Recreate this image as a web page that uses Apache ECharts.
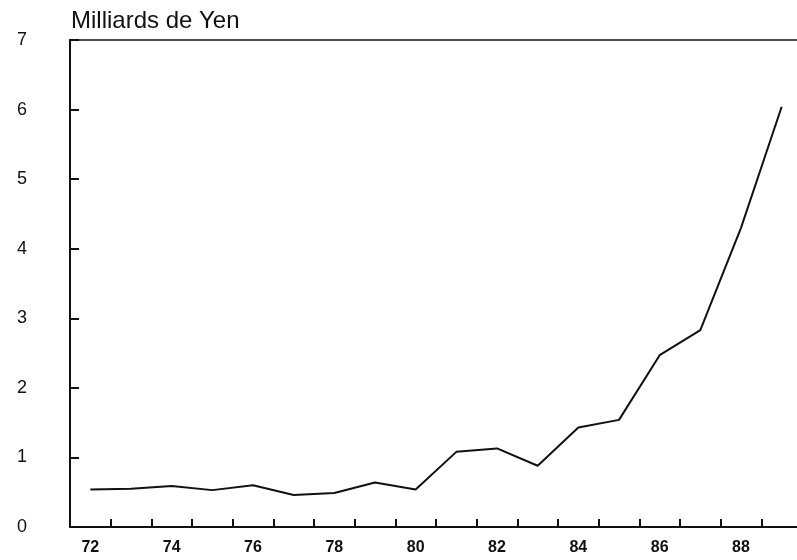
<!DOCTYPE html>
<html>
<head>
<meta charset="utf-8">
<script src="https://cdn.jsdelivr.net/npm/echarts@6/dist/echarts.min.js"></script>
<style>
  html, body { margin: 0; padding: 0; background: #fff; }
  #chart { width: 797px; height: 560px; }
</style>
</head>
<body>
<div id="chart"></div>
<script>
const years = ['72', '73', '74', '75', '76', '77', '78', '79', '80', '81', '82', '83', '84', '85', '86', '87', '88', '89']
const values = [0.54, 0.55, 0.59, 0.53, 0.60, 0.46, 0.49, 0.64, 0.54, 1.08, 1.13, 0.88, 1.43, 1.54, 2.47, 2.83, 4.3, 6.04]

const ink = '#111'
const chart = echarts.init(document.getElementById('chart'))

chart.setOption({
  backgroundColor: '#fff',
  animation: false,
  title: {
    text: 'Milliards de Yen',
    left: 66, top: 4,
    textStyle: { fontFamily: 'Liberation Sans', fontSize: 24, fontWeight: 'normal', color: ink }
  },
  grid: {
    left: 70, top: 40, width: 732, height: 487,
    outerBoundsMode: 'none', containLabel: false,
    show: true, borderColor: ink, borderWidth: 1.5, backgroundColor: 'transparent'
  },
  xAxis: {
    type: 'category',
    data: years,
    boundaryGap: true,
    axisLine: { lineStyle: { color: ink, width: 2 } },
    axisTick: { show: true, inside: true, length: 8, interval: 0, lineStyle: { color: ink, width: 2 } },
    axisLabel: {
      interval: 1, margin: 13, color: ink,
      fontFamily: 'Liberation Sans', fontSize: 16, fontWeight: 'bold'
    },
    splitLine: { show: false }
  },
  yAxis: {
    type: 'value',
    min: 0, max: 7, interval: 1,
    axisLine: { show: true, lineStyle: { color: ink, width: 2 } },
    axisTick: { show: true, inside: true, length: 9, lineStyle: { color: ink, width: 2 } },
    axisLabel: { margin: 43, color: ink, fontFamily: 'Liberation Sans', fontSize: 18 },
    splitLine: { show: false }
  },
  series: [{
    type: 'line',
    data: values,
    symbol: 'none',
    lineStyle: { color: ink, width: 2 }
  }]
})
</script>
</body>
</html>
